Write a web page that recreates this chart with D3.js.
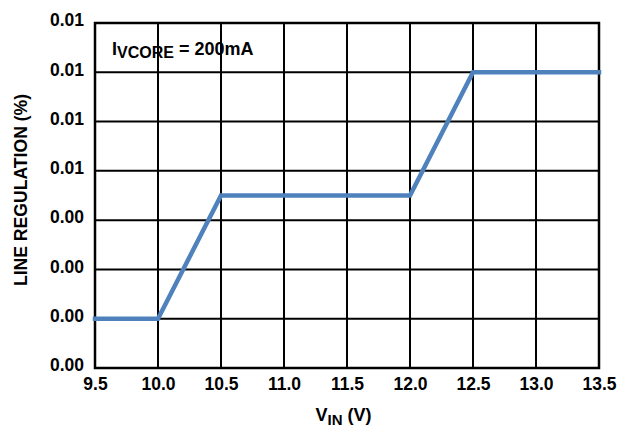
<!DOCTYPE html>
<html><head><meta charset="utf-8">
<script src="https://cdn.jsdelivr.net/npm/d3@7"></script>
<style>
html,body{margin:0;padding:0;background:#fff;}
text{font-family:"Liberation Sans",Arial,sans-serif;font-weight:bold;fill:#000;}
</style></head>
<body>
<svg id="chart" width="623" height="427"></svg>
<script>
const vin = [9.5, 10.0, 10.5, 12.0, 12.5, 13.5];
const lineReg = [0.0015, 0.0015, 0.00525, 0.00525, 0.009, 0.009];
const xTicks = [9.5, 10.0, 10.5, 11.0, 11.5, 12.0, 12.5, 13.0, 13.5];
const yTicks = [0, 0.0015, 0.003, 0.0045, 0.006, 0.0075, 0.009, 0.0105];
const yTickLabels = ["0.00", "0.00", "0.00", "0.00", "0.01", "0.01", "0.01", "0.01"];

const svg = d3.select("#chart");
const m = {left: 95, right: 24, top: 23, bottom: 59};
const W = 623, H = 427;
const x = d3.scaleLinear().domain([9.5, 13.5]).range([m.left, W - m.right]);
const y = d3.scaleLinear().domain([0, 0.0105]).range([H - m.bottom, m.top]);

// grid
const g = svg.append("g");
g.selectAll(".vg").data(xTicks).enter().append("line")
  .attr("x1", d => x(d)).attr("x2", d => x(d))
  .attr("y1", y(0.0105)).attr("y2", y(0))
  .attr("stroke", "#000").attr("stroke-width", 2);
g.selectAll(".hg").data(yTicks).enter().append("line")
  .attr("x1", x(9.5)).attr("x2", x(13.5))
  .attr("y1", d => y(d)).attr("y2", d => y(d))
  .attr("stroke", "#000").attr("stroke-width", 2);
g.append("rect").attr("x", x(9.5)).attr("y", y(0.0105))
  .attr("width", x(13.5) - x(9.5)).attr("height", y(0) - y(0.0105))
  .attr("fill", "none").attr("stroke", "#000").attr("stroke-width", 2.5);

// axes labels
const xAxis = d3.axisBottom(x).tickValues(xTicks).tickFormat(d3.format(".1f")).tickSize(0).tickPadding(10);
const xa = svg.append("g").attr("transform", `translate(0,${y(0)})`).call(xAxis);
xa.select(".domain").remove();
xa.selectAll("text").style("font-size", "17.5px").style("font-family", "Liberation Sans, Arial, sans-serif").style("font-weight", "bold").attr("fill", "#000");

const yAxis = d3.axisLeft(y).tickValues(yTicks).tickFormat((d, i) => yTickLabels[i]).tickSize(0).tickPadding(11);
const ya = svg.append("g").attr("transform", `translate(${x(9.5)},0)`).call(yAxis);
ya.select(".domain").remove();
ya.selectAll("text").style("font-size", "17.5px").style("font-family", "Liberation Sans, Arial, sans-serif").style("font-weight", "bold").attr("fill", "#000")
  .attr("dy", "0.16em");

// line
const line = d3.line().x((d, i) => x(vin[i])).y(d => y(d));
svg.append("path").datum(lineReg).attr("d", line)
  .attr("fill", "none").attr("stroke", "#4f81bd").attr("stroke-width", 4.5)
  .attr("stroke-linecap", "square").attr("stroke-linejoin", "miter");

// annotation
const ann = svg.append("text").attr("x", 112).attr("y", 55).style("font-size", "18px");
ann.append("tspan").text("I");
ann.append("tspan").text("VCORE").style("font-size", "16px").attr("dy", 3);
ann.append("tspan").text(" = 200mA").attr("dy", -3);

// axis titles
const xt = svg.append("text").attr("x", 343.5).attr("y", 421).attr("text-anchor", "middle").style("font-size", "18px");
xt.append("tspan").text("V");
xt.append("tspan").text("IN").style("font-size", "15px").attr("dy", 4);
xt.append("tspan").text(" (V)").attr("dy", -4);

svg.append("text").attr("transform", "translate(27,190) rotate(-90)")
  .attr("text-anchor", "middle").style("font-size", "17.6px").text("LINE REGULATION (%)");
</script>
</body></html>
